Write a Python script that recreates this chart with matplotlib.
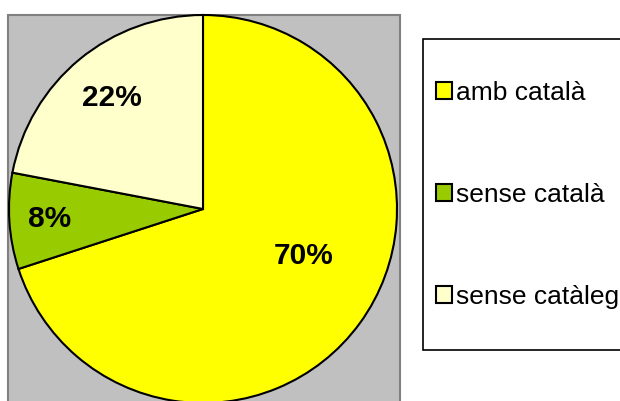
import numpy as np
import matplotlib.pyplot as plt
from matplotlib.patches import Rectangle

plt.rcParams['font.family'] = ['Liberation Sans', 'DejaVu Sans']

# share of titles by catalogue language
labels = ["amb català", "sense català", "sense catàleg"]
shares = [70, 8, 22]
colors = ["#FFFF00", "#99CC00", "#FFFFCC"]

# label placement inside each wedge: radius factor and angle nudge (deg)
label_r = [0.57, 0.79, 0.74]
label_nudge = [11, 0, 0]

W, H = 620, 401
fig = plt.figure(figsize=(W / 100, H / 100), dpi=100)
ax = fig.add_axes([0, 0, 1, 1])

# grey plot area
ax.add_patch(Rectangle((8, -20), 392, 401 - 15 + 20, facecolor="#C0C0C0",
                       edgecolor="#808080", linewidth=1.5, zorder=0))

cx, cy, rad = 203, 401 - 209, 194
wedges, _, autotexts = ax.pie(
    shares, colors=colors, startangle=90, counterclock=False,
    center=(cx, cy), radius=rad, autopct="%d%%",
    wedgeprops=dict(edgecolor="black", linewidth=1.5),
    textprops=dict(fontsize=21.5, fontweight="bold", color="black"))

for w, t, r, dn in zip(wedges, autotexts, label_r, label_nudge):
    mid = np.deg2rad((w.theta1 + w.theta2) / 2 + dn)
    t.set_position((cx + r * rad * np.cos(mid), cy + r * rad * np.sin(mid)))
    t.set_ha("center")
    t.set_va("center")

ax.set_xlim(0, W)
ax.set_ylim(0, H)
ax.set_aspect("equal")
ax.axis("off")

# legend frame and entries
ax.add_patch(Rectangle((423, 401 - 350), 220, 311, facecolor="white",
                       edgecolor="black", linewidth=1.2, clip_on=False, zorder=1))
leg = ax.legend(wedges, labels, loc="center left",
                bbox_to_anchor=(436 / W, 1 - 195 / H), frameon=False,
                fontsize=19, handlelength=0.62, handleheight=0.62,
                handletextpad=0.15, labelspacing=2.95, borderpad=0,
                borderaxespad=0)
leg.set_zorder(2)

fig.savefig("out.png", dpi=100)
